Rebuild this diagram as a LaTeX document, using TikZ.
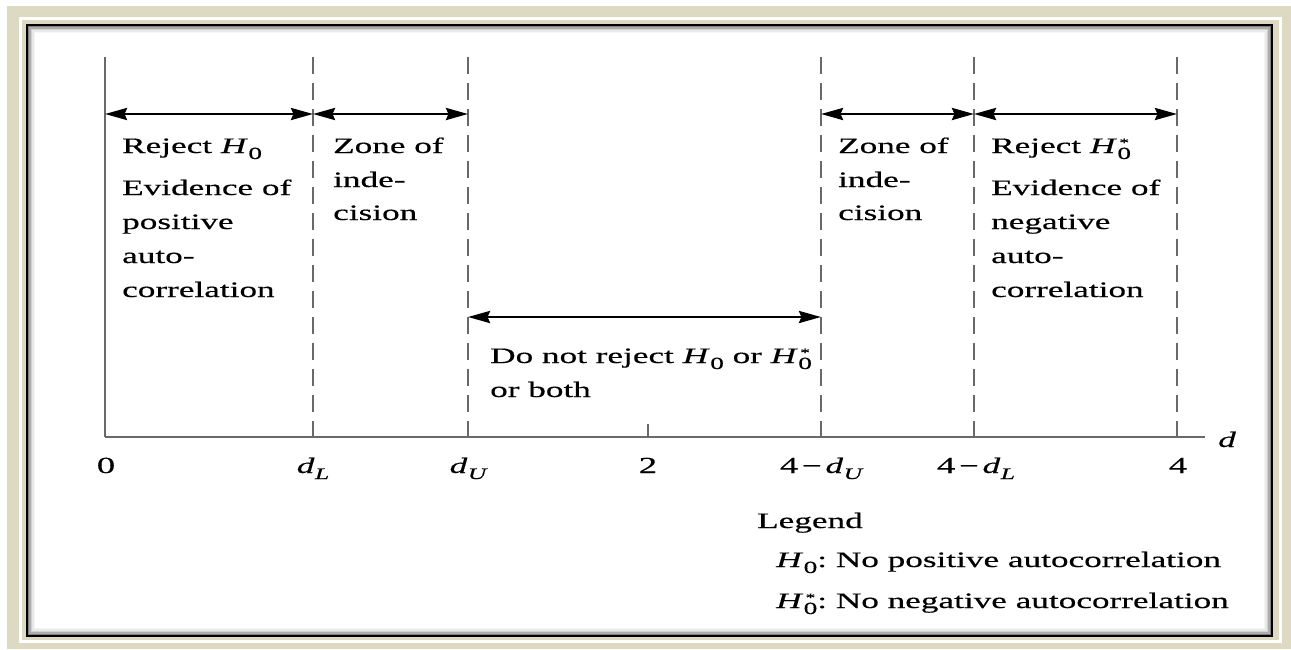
\documentclass[tikz,border=0pt]{standalone}
\usepackage{fontspec}
\setmainfont{Liberation Serif}[FakeStretch=1.6, FakeBold=0.4]
\usetikzlibrary{arrows.meta}
\definecolor{beige}{RGB}{222,217,195}
\definecolor{axisgray}{RGB}{105,105,105}
\newcommand\zsub{\raisebox{-6pt}{\fontsize{17}{17}\selectfont 0}}
\newcommand\Hz{\textit{H}\kern0.5pt\zsub}
\newcommand\Hzs{\textit{H}\kern0.5pt{\ooalign{\zsub\cr\hidewidth\raisebox{6.5pt}{\fontsize{12}{12}\selectfont *}\hidewidth\cr}}}
\newcommand\dsub[1]{\textit{d}\kern0.5pt\raisebox{-6pt}{\fontsize{16}{16}\selectfont\itshape #1}}
\newcommand\dig[1]{{\fontsize{23}{23}\selectfont #1}}
\tikzset{
  txt/.style={anchor=base west, inner sep=0pt, font=\fontsize{22}{26}\selectfont},
  lbl/.style={anchor=base, inner sep=0pt, font=\fontsize{22}{26}\selectfont},
  vline/.style={draw=axisgray, line width=2.6pt},
  dline/.style={vline, dash pattern=on 17pt off 9pt},
  dbl/.style={{Stealth[length=22pt,width=12pt,inset=2.5pt]}-{Stealth[length=22pt,width=12pt,inset=2.5pt]}, line width=2.8pt, black}
}
\begin{document}
\begin{tikzpicture}[x=1pt,y=-1pt]
\useasboundingbox (0,0) rectangle (1291,649);
% frame
\fill[white] (0,0) rectangle (1291,649);
\fill[beige] (7,6) rectangle (1291,649);
\draw[white, line width=3pt] (20,18) rectangle (1280,641);
\fill[white] (27,25) rectangle (1272,636);
\foreach \i/\c in {1.5/50,3/32,4.5/18,6/9,7.5/4}
  \draw[black!\c, line width=1.6pt] (27+\i,25+\i) rectangle (1272-\i,636-\i);
\draw[black, line width=2.5pt] (27,25) rectangle (1272,636);

% coordinates
\coordinate (t0) at (105,57);  \coordinate (b0) at (105,437);
\coordinate (t1) at (313,57);  \coordinate (b1) at (313,437);
\coordinate (t2) at (468,57);  \coordinate (b2) at (468,437);
\coordinate (t3) at (821,57);  \coordinate (b3) at (821,437);
\coordinate (t4) at (974,57);  \coordinate (b4) at (974,437);
\coordinate (t5) at (1177,57); \coordinate (b5) at (1177,437);
\coordinate (axend) at (1205,437);
\coordinate (tickt) at (648,424); \coordinate (tickb) at (648,437);
\coordinate (a0) at (105,114); \coordinate (a1) at (313,114);
\coordinate (a2) at (468,114); \coordinate (a3) at (821,114);
\coordinate (a4) at (974,114); \coordinate (a5) at (1177,114);
\coordinate (m2) at (468,317); \coordinate (m3) at (821,317);

% axes and boundaries
\draw[vline] (t0) -- (b0);
\draw[vline] (b0) -- (axend);
\draw[vline] (tickt) -- (tickb);
\foreach \k in {1,...,5} \draw[dline] (t\k) -- (b\k);

% arrows
\draw[dbl] (a0) -- (a1);
\draw[dbl] (a1) -- (a2);
\draw[dbl] (a3) -- (a4);
\draw[dbl] (a4) -- (a5);
\draw[dbl] (m2) -- (m3);

% left block
\node[txt] (l1) at (122,153) {Reject \Hz};
\node[txt] (l2) at (122,195) {Evidence of};
\node[txt] (l3) at (122,229) {positive};
\node[txt] (l4) at (122,263) {auto-};
\node[txt] (l5) at (122,297) {correlation};
% zone left
\node[txt] (z1) at (333,153) {Zone of};
\node[txt] (z2) at (333,187) {inde-};
\node[txt] (z3) at (333,220) {cision};
% zone right
\node[txt] (y1) at (838,153) {Zone of};
\node[txt] (y2) at (838,187) {inde-};
\node[txt] (y3) at (838,220) {cision};
% right block
\node[txt] (r1) at (991,153) {Reject \Hzs};
\node[txt] (r2) at (991,195) {Evidence of};
\node[txt] (r3) at (991,229) {negative};
\node[txt] (r4) at (991,263) {auto-};
\node[txt] (r5) at (991,297) {correlation};
% middle
\node[txt] (c1) at (490,363) {Do not reject \Hz\ or \Hzs};
\node[txt] (c2) at (490,397) {or both};

% axis labels
\node[lbl] (x0) at (106,473) {\dig{0}};
\node[lbl] (x1) at (313,473) {\dsub{L}};
\node[lbl] (x2) at (468,473) {\dsub{U}};
\node[lbl] (x3) at (648,473) {\dig{2}};
\node[lbl] (x4) at (821,473) {\dig{4}\,−\,\dsub{U}};
\node[lbl] (x5) at (976,473) {\dig{4}\,−\,\dsub{L}};
\node[lbl] (x6) at (1178,473) {\dig{4}};
\node[txt] (dl) at (1218,447) {\textit{d}};

% legend
\node[txt] (g0) at (757,528) {Legend};
\node[txt] (g1) at (776,567) {\Hz:\ No positive autocorrelation};
\node[txt] (g2) at (776,608) {\Hzs:\ No negative autocorrelation};
\end{tikzpicture}
\end{document}
